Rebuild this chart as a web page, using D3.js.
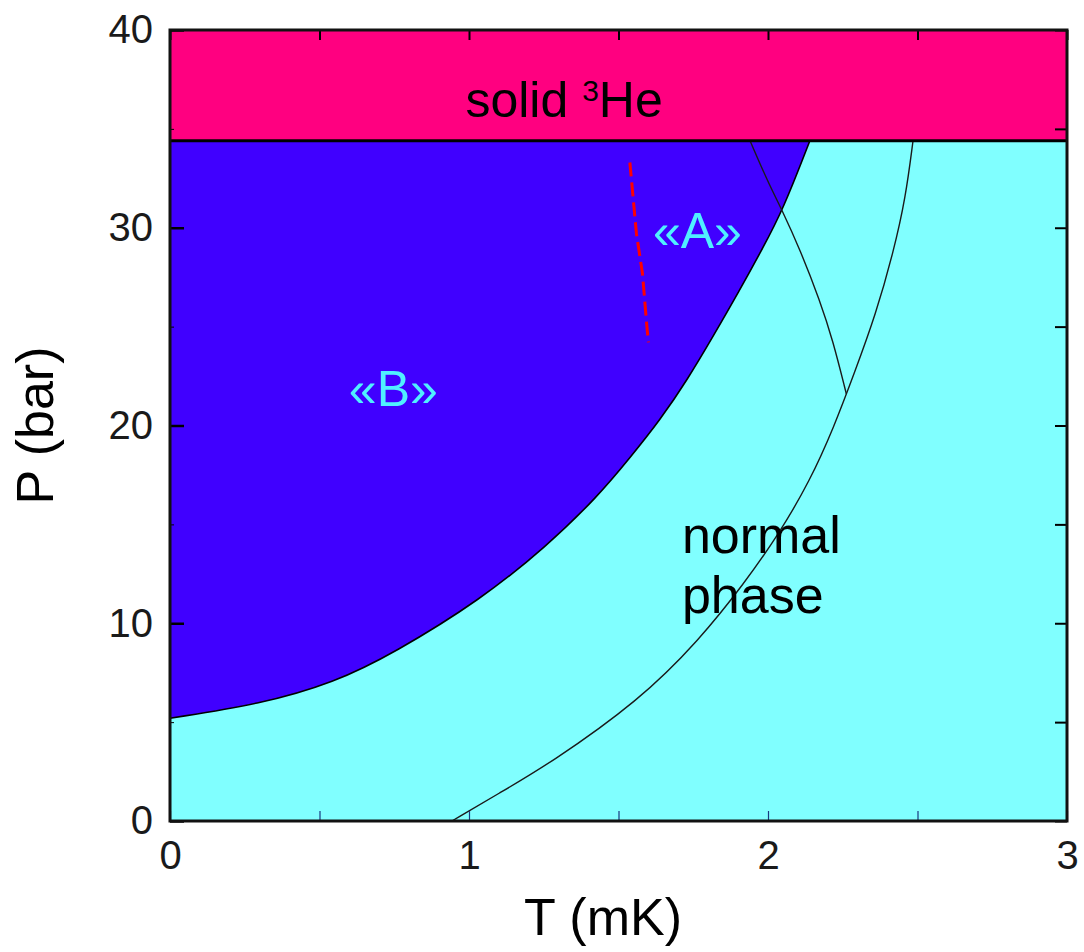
<!DOCTYPE html>
<html>
<head>
<meta charset="utf-8">
<script src="https://cdn.jsdelivr.net/npm/d3@7"></script>
<style>
  body { margin: 0; background: #fff; }
  svg { display: block; font-family: "Liberation Sans", Arial, sans-serif; }
</style>
</head>
<body>
<div id="chart"></div>
<script>
// phase boundary of the «B» region (T in mK, P in bar)
const boundaryT = [0, 0.3, 0.55, 0.75, 1.04, 1.26, 1.43, 1.54, 1.64, 1.73, 1.82, 1.90, 1.98, 2.05, 2.14];
const boundaryP = [5.2, 5.9, 7.0, 8.5, 11.2, 13.9, 16.4, 18.4, 20.3, 22.3, 24.6, 26.7, 28.9, 30.9, 34.4];

// normal phase transition line
const normalT = [0.943, 1.10, 1.27, 1.57, 1.77, 1.92, 2.04, 2.14, 2.22, 2.29, 2.36, 2.42, 2.46, 2.485];
const normalP = [0, 1.4, 2.9, 6.1, 9.15, 12.0, 14.6, 17.2, 19.9, 22.7, 25.6, 28.8, 31.5, 34.4];

// steep line from the melting curve down to the crossing
const steepT = [1.94, 2.0, 2.047, 2.107, 2.174, 2.217, 2.262];
const steepP = [34.4, 32.3, 30.9, 28.9, 26.3, 24.3, 21.6];

// red dashed line
const dashT = [1.538, 1.56, 1.58, 1.595, 1.60];
const dashP = [33.3, 29.7, 27.7, 25.0, 24.2];

const solidP = 34.4;
const xTicks = [0, 0.5, 1, 1.5, 2, 2.5, 3];
const yTicks = [0, 5, 10, 15, 20, 25, 30, 35, 40];

const width = 1084;
const height = 952;
const margin = { top: 30, right: 17, bottom: 131, left: 170 };

const x = d3.scaleLinear().domain([0, 3]).range([margin.left, width - margin.right]);
const y = d3.scaleLinear().domain([0, 40]).range([height - margin.bottom, margin.top]);

const svg = d3
  .select("#chart")
  .append("svg")
  .attr("width", width)
  .attr("height", height);

const zip = (a, b) => a.map((v, i) => [v, b[i]]);

// normal phase background
svg
  .append("rect")
  .attr("x", x(0))
  .attr("y", y(solidP))
  .attr("width", x(3) - x(0))
  .attr("height", y(0) - y(solidP))
  .attr("fill", "#80ffff");

// solid region
svg
  .append("rect")
  .attr("x", x(0))
  .attr("y", y(40))
  .attr("width", x(3) - x(0))
  .attr("height", y(solidP) - y(40))
  .attr("fill", "#ff0080");

// «B» region
const area = d3
  .area()
  .x((d) => x(d[0]))
  .y0((d) => y(d[1]))
  .y1(() => y(solidP))
  .curve(d3.curveBasis);

svg
  .append("path")
  .datum(zip(boundaryT, boundaryP))
  .attr("fill", "#4000ff")
  .attr("d", area);

const line = d3
  .line()
  .x((d) => x(d[0]))
  .y((d) => y(d[1]))
  .curve(d3.curveBasis);

svg
  .append("path")
  .datum(zip(boundaryT, boundaryP))
  .attr("fill", "none")
  .attr("stroke", "#000")
  .attr("stroke-width", 1.6)
  .attr("d", line);

svg
  .append("path")
  .datum(zip(normalT, normalP))
  .attr("fill", "none")
  .attr("stroke", "#1a1a1a")
  .attr("stroke-width", 1.4)
  .attr("d", line);

svg
  .append("path")
  .datum(zip(steepT, steepP))
  .attr("fill", "none")
  .attr("stroke", "#1a1a1a")
  .attr("stroke-width", 1.4)
  .attr("d", line);

svg
  .append("path")
  .datum(zip(dashT, dashP))
  .attr("fill", "none")
  .attr("stroke", "#ff0000")
  .attr("stroke-width", 3)
  .attr("stroke-dasharray", "14,6")
  .attr("d", d3.line().x((d) => x(d[0])).y((d) => y(d[1])));

// melting line
svg
  .append("line")
  .attr("x1", x(0))
  .attr("x2", x(3))
  .attr("y1", y(solidP))
  .attr("y2", y(solidP))
  .attr("stroke", "#000")
  .attr("stroke-width", 3);

// axes, ticks pointing inward
const isMajorX = (d) => Number.isInteger(d);
const isMajorY = (d) => d % 10 === 0;

const bottomAxis = d3
  .axisBottom(x)
  .tickValues(xTicks)
  .tickSizeInner(-10)
  .tickSizeOuter(0)
  .tickPadding(20)
  .tickFormat((d) => (isMajorX(d) ? d : ""));

const leftAxis = d3
  .axisLeft(y)
  .tickValues(yTicks)
  .tickSizeInner(-14)
  .tickSizeOuter(0)
  .tickPadding(17)
  .tickFormat((d) => (isMajorY(d) ? d : ""));

const gx = svg
  .append("g")
  .attr("transform", `translate(0,${y(0)})`)
  .call(bottomAxis);

const gy = svg
  .append("g")
  .attr("transform", `translate(${x(0)},0)`)
  .call(leftAxis);

svg
  .append("g")
  .attr("transform", `translate(0,${y(40)})`)
  .call(d3.axisTop(x).tickValues(xTicks).tickSizeInner(-10).tickSizeOuter(0).tickFormat(""));

svg
  .append("g")
  .attr("transform", `translate(${x(3)},0)`)
  .call(d3.axisRight(y).tickValues(yTicks).tickSizeInner(-12).tickSizeOuter(0).tickFormat(""));

svg.selectAll(".domain").remove();
svg.selectAll(".tick line").attr("stroke", "#000").attr("stroke-width", 2);
gy.selectAll(".tick line")
  .attr("x2", (d) => (isMajorY(d) ? 14 : 4))
  .attr("stroke-width", (d) => (isMajorY(d) ? 2.5 : 1));
gx.selectAll(".tick line").attr("stroke-width", 1.2).attr("stroke", "#1a3a80");

svg
  .selectAll(".tick text")
  .attr("font-size", 40)
  .attr("font-family", "Liberation Sans, Arial, sans-serif")
  .attr("fill", "#1a1a1a");

// frame
svg
  .append("rect")
  .attr("x", x(0))
  .attr("y", y(40))
  .attr("width", x(3) - x(0))
  .attr("height", y(0) - y(40))
  .attr("fill", "none")
  .attr("stroke", "#111")
  .attr("stroke-width", 3);

// axis titles
svg
  .append("text")
  .attr("x", 603)
  .attr("y", 935)
  .attr("text-anchor", "middle")
  .attr("font-size", 52)
  .attr("fill", "#000")
  .text("T (mK)");

svg
  .append("text")
  .attr("transform", `translate(53,${y(20)}) rotate(-90)`)
  .attr("text-anchor", "middle")
  .attr("font-size", 52)
  .attr("fill", "#000")
  .text("P (bar)");

// region labels
const solidLabel = svg
  .append("text")
  .attr("x", x(1.318))
  .attr("y", y(35.6))
  .attr("text-anchor", "middle")
  .attr("font-size", 50)
  .attr("fill", "#000");
solidLabel.append("tspan").text("solid ");
solidLabel.append("tspan").attr("font-size", 30).attr("dy", -16).text("3");
solidLabel.append("tspan").attr("dy", 16).text("He");

svg
  .append("text")
  .attr("x", x(1.764))
  .attr("y", y(29.0))
  .attr("text-anchor", "middle")
  .attr("font-size", 50)
  .attr("fill", "#50f0ff")
  .text("«A»");

svg
  .append("text")
  .attr("x", x(0.747))
  .attr("y", y(21.0))
  .attr("text-anchor", "middle")
  .attr("font-size", 50)
  .attr("fill", "#50f0ff")
  .text("«B»");

svg
  .append("text")
  .attr("x", x(1.712))
  .attr("y", y(13.55))
  .attr("font-size", 52)
  .attr("fill", "#000")
  .text("normal");

svg
  .append("text")
  .attr("x", x(1.712))
  .attr("y", y(10.5))
  .attr("font-size", 52)
  .attr("fill", "#000")
  .text("phase");
</script>
</body>
</html>
